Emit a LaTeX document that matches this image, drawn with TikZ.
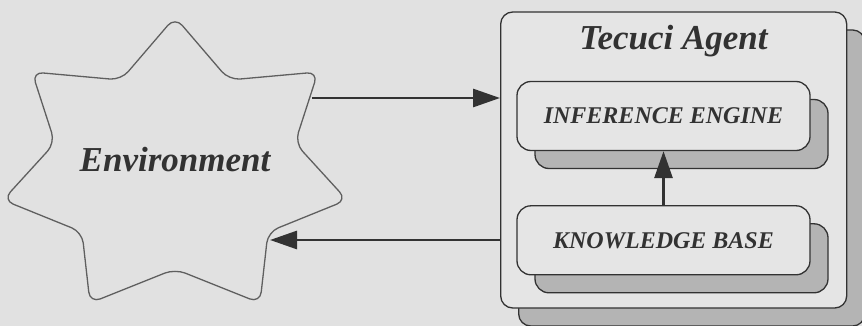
\documentclass[tikz,border=0pt]{standalone}
\usepackage{fontspec}
\setmainfont{Liberation Serif}
\usetikzlibrary{arrows.meta,positioning,shadows}

\definecolor{paper}{RGB}{225,225,225}
\definecolor{boxfill}{RGB}{229,229,229}
\definecolor{stipple}{RGB}{180,180,180}
\definecolor{ink}{RGB}{50,50,50}
\definecolor{starline}{RGB}{95,95,95}

\begin{document}
\begin{tikzpicture} [x=1pt,y=-1pt,>={Triangle[length=27pt,width=18pt]},
	shadowed/.style={general shadow={shadow xshift=18pt,shadow yshift=-18pt,
		fill=stipple,draw=ink,line width=1.3pt}},
	agent node/.style={rectangle,rounded corners=12pt,draw=ink,line width=1.3pt,
		fill=boxfill,inner sep=0pt,minimum width=346pt,minimum height=296pt,shadowed},
	part node/.style={rectangle,rounded corners=14pt,draw=ink,line width=1.3pt,
		fill=boxfill,inner sep=0pt,minimum width=293pt,minimum height=69pt,shadowed,
		font=\bfseries\itshape\fontsize{24}{28}\selectfont,text=ink},
	big text/.style={font=\bfseries\itshape\fontsize{35}{40}\selectfont,text=ink},
	flow/.style={->,line width=2.8pt,draw=ink}]

	\path[use as bounding box,fill=paper] (0,0) rectangle (862,326);

	% environment star
	\draw[starline,line width=1.3pt,rounded corners=11pt] (175,17)
		\foreach \sx/\sy in {229/80,318/72,295/143,347/200,268/232,260/303,175/269,
			90/303,82/232,3/200,55/143,32/72,121/80} { -- (\sx,\sy) } -- cycle;
	\node[big text] (0) at (175,160) {Environment};
	\coordinate (0 out) at (312,98);
	\coordinate (0 in) at (270,240);

	% agent
	\node[agent node] (1) at (673.7,160) {};
	\node[big text,anchor=base] (2) at (673.5,50) {Tecuci Agent};
	\node[part node] (3) at (663.5,116) {INFERENCE ENGINE};
	\node[part node] (4) [below=54pt of 3] {KNOWLEDGE BASE};

	\draw[flow] (0 out) -- (0 out -| 1.west);
	\draw[flow] (0 in -| 1.west) -- (0 in);
	\draw[flow] (4) -- (3);
\end{tikzpicture}
\end{document}
